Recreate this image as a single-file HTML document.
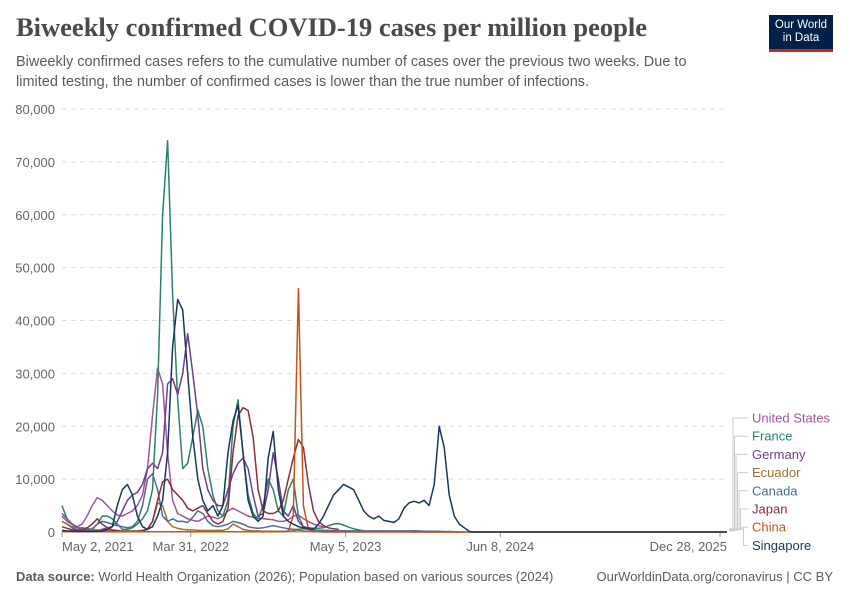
<!DOCTYPE html>
<html><head><meta charset="utf-8"><style>
body{margin:0;background:#fff;font-family:"Liberation Sans",sans-serif;}
#wrap{position:relative;width:850px;height:600px;overflow:hidden;}
h1{position:absolute;left:16px;top:12px;margin:0;font-family:"Liberation Serif",serif;font-size:26.5px;font-weight:bold;color:#4a4a4a;}
.sub{position:absolute;left:16px;top:52px;width:700px;font-size:14.5px;line-height:20px;color:#5b5b5b;}
.logo{position:absolute;left:769px;top:15px;width:64px;height:37px;background:#002147;color:#fff;font-size:11.5px;line-height:13px;text-align:center;padding-top:4px;box-sizing:border-box;border-bottom:3px solid #ce261e;}
.foot{position:absolute;top:569px;font-size:13px;color:#5b5b5b;}
</style></head><body><div id="wrap">
<h1>Biweekly confirmed COVID-19 cases per million people</h1>
<div class="sub">Biweekly confirmed cases refers to the cumulative number of cases over the previous two weeks. Due to limited testing, the number of confirmed cases is lower than the true number of infections.</div>
<div class="logo">Our World<br>in Data</div>
<svg id="chart" width="850" height="600" style="position:absolute;left:0;top:0"></svg>
<div class="foot" style="left:16px"><b>Data source:</b> World Health Organization (2026); Population based on various sources (2024)</div>
<div class="foot" style="right:17px">OurWorldinData.org/coronavirus | CC BY</div>
</div>
<script>
// values sampled every 13 days starting 2021-05-02
const stepDays = 13;
const yTicks = [0,10000,20000,30000,40000,50000,60000,70000,80000];
const xTickDays = [0,333,733,1133,1701];
const xTickLabels = ["May 2, 2021","Mar 31, 2022","May 5, 2023","Jun 8, 2024","Dec 28, 2025"];
const seriesNames = ["United States","France","Germany","Ecuador","Canada","Japan","China","Singapore"];
const seriesColors = ["#a2559c","#2c8465","#6d3e91","#a2702c","#4c6a9c","#883039","#c4521a","#18375f"];
const usVals = [3000,2000,1500,1000,1500,3000,5000,6500,6000,5000,4000,3200,3000,3500,4000,5000,7000,12000,22000,31000,28000,15000,6000,3500,3000,2500,2200,2000,2500,3000,2800,2500,3000,4000,4500,4000,3500,3000,2800,2600,2500,2400,2300,2000,2000,2300,3000,3200,2500,2000,1500,1200,1000];
const franceVals = [5000,2500,1500,800,500,400,500,1500,3000,3000,2500,1500,500,500,800,1500,2500,4000,8000,26000,60000,74000,45000,25000,12000,13000,18000,23000,20000,12000,7000,4000,3000,6000,20000,25000,15000,7000,3500,2500,5000,10000,8000,4000,3000,8000,10000,3000,1000,800,700,700,800,1200,1500,1600,1300,900,600,400,200,100];
const germanyVals = [2000,1500,800,400,200,150,200,300,500,800,1000,2000,4000,6000,7000,7500,9000,12000,13000,12000,15000,28000,29000,26000,30000,37500,30000,22000,12000,8000,6000,5000,5000,8000,11000,13000,14000,12000,7000,3000,3500,8000,15000,10000,4000,3000,5000,2000,1000,700,400,300,200];
const ecuadorVals = [2000,1500,1000,800,800,700,500,400,300,300,300,300,200,200,200,200,300,600,2000,5500,5000,2000,1000,700,500,400,400,300,300,300,300,300,300,600,1500,1000,500,300,200,200,150,150,150,150,150,150,200,300,200,150,100,100,100,100,100,100,100,100,100,100,100,100,50,50,50,50,50,50,50,50,0];
const canadaVals = [3500,2500,1500,800,500,400,600,1500,2000,1800,1500,1200,1000,800,1000,2000,5000,10000,11000,8000,3000,2000,2500,2000,2000,1800,2800,4000,3500,2000,1200,1000,1200,1500,2000,1800,1500,1000,800,700,800,1000,1200,1000,800,600,500,500,600,500,400,300,300,300,250,250,250,200,200,200,200,200,200,200,200,200,200,200,200,200,200,200,150,150,150,150,100,100,50,0];
const japanVals = [1000,700,400,300,400,800,1500,2500,1500,800,400,200,100,100,100,100,200,500,2000,6000,9500,10000,8000,7000,6000,4500,4000,4500,5000,3500,2000,1500,2000,4500,15000,22000,23500,23000,18000,8000,4000,3500,3500,4000,6000,10000,14000,17500,16000,9000,4000,2000,1200,800,600,500];
const chinaVals = [50,50,50,50,50,50,50,50,50,50,50,50,50,50,50,50,50,50,50,50,50,50,50,50,50,50,50,50,50,50,50,50,50,50,50,50,50,50,50,50,50,50,50,50,50,200,3000,46000,5000,500,100,50,0];
const singaporeVals = [300,200,150,100,100,100,100,100,200,500,1000,5000,8000,9000,7000,3000,1000,500,1000,3000,6000,15000,35000,44000,42000,30000,18000,10000,6000,4000,5000,3000,5000,15000,21000,24000,15000,6000,3000,2000,3000,14000,19000,8000,3000,2000,1500,1000,800,700,500,1500,3000,5000,7000,8000,9000,8500,8000,6000,4000,3000,2500,3000,2200,2000,1800,2500,4500,5500,5800,5500,6000,5000,9000,20000,16000,7000,3000,1500,800,100,0];
const allVals = [usVals,franceVals,germanyVals,ecuadorVals,canadaVals,japanVals,chinaVals,singaporeVals];
const extendToEnd = [false,false,false,true,false,false,true,true];
const endDay = 1719;

const svg = document.getElementById('chart');
const NS = 'http://www.w3.org/2000/svg';
const X0=62, X1=727, Y0=532, Y1=109;
const xScale = d => X0 + d/endDay*(X1-X0);
const yScale = v => Y0 - v/80000*(Y0-Y1);
function mk(tag, attrs){const e=document.createElementNS(NS,tag);for(const k in attrs)e.setAttribute(k,attrs[k]);svg.appendChild(e);return e;}

yTicks.forEach((t,i)=>{
  const y=yScale(t);
  if(t>0){const g=mk('line',{x1:X0,x2:X1,y1:y,y2:y,stroke:'#ddd','stroke-dasharray':'5,4'});
  
  }
  const l=mk('text',{x:55,y:y+5,'text-anchor':'end','font-size':13,fill:'#666','font-family':'Liberation Sans, sans-serif'});
  l.textContent=t.toLocaleString('en-US');
  
  
});
const ax=mk('line',{x1:X0,x2:X1,y1:Y0,y2:Y0,stroke:'#999'});


xTickDays.forEach((d,i)=>{
  const x=xScale(d);
  const tk=mk('line',{x1:x,x2:x,y1:Y0,y2:Y0+5,stroke:'#999'});
  
  
  const anchor = i===0?'start':(i===xTickDays.length-1?'end':'middle');
  const lx = i===xTickDays.length-1?X1:x;
  const l=mk('text',{x:lx,y:551,'text-anchor':anchor,'font-size':13,fill:'#666','font-family':'Liberation Sans, sans-serif'});
  l.textContent=xTickLabels[i];
  
  
});
allVals.forEach((vals,s)=>{
  let pts=vals.map((v,i)=>xScale(i*stepDays).toFixed(1)+','+yScale(v).toFixed(1));
  if(extendToEnd[s]) pts.push(xScale(endDay)+','+yScale(0));
  const p=mk('polyline',{points:pts.join(' '),fill:'none',stroke:seriesColors[s],'stroke-width':1.5,'stroke-linejoin':'round'});
  
  
});
seriesNames.forEach((n,i)=>{
  const ly=418+i*18.2;
  const bx=733+i*1.5;
  const c=mk('polyline',{points:`${X1+2},${531-i*0.3} ${bx},${531-i*0.3} ${bx},${ly} ${748},${ly}`,fill:'none',stroke:'#ccc','stroke-width':1});
  
  
  const t=mk('text',{x:752,y:ly+4.5,'font-size':13,fill:seriesColors[i],'font-family':'Liberation Sans, sans-serif'});
  t.textContent=n;
  
  
});
</script>
</body></html>
